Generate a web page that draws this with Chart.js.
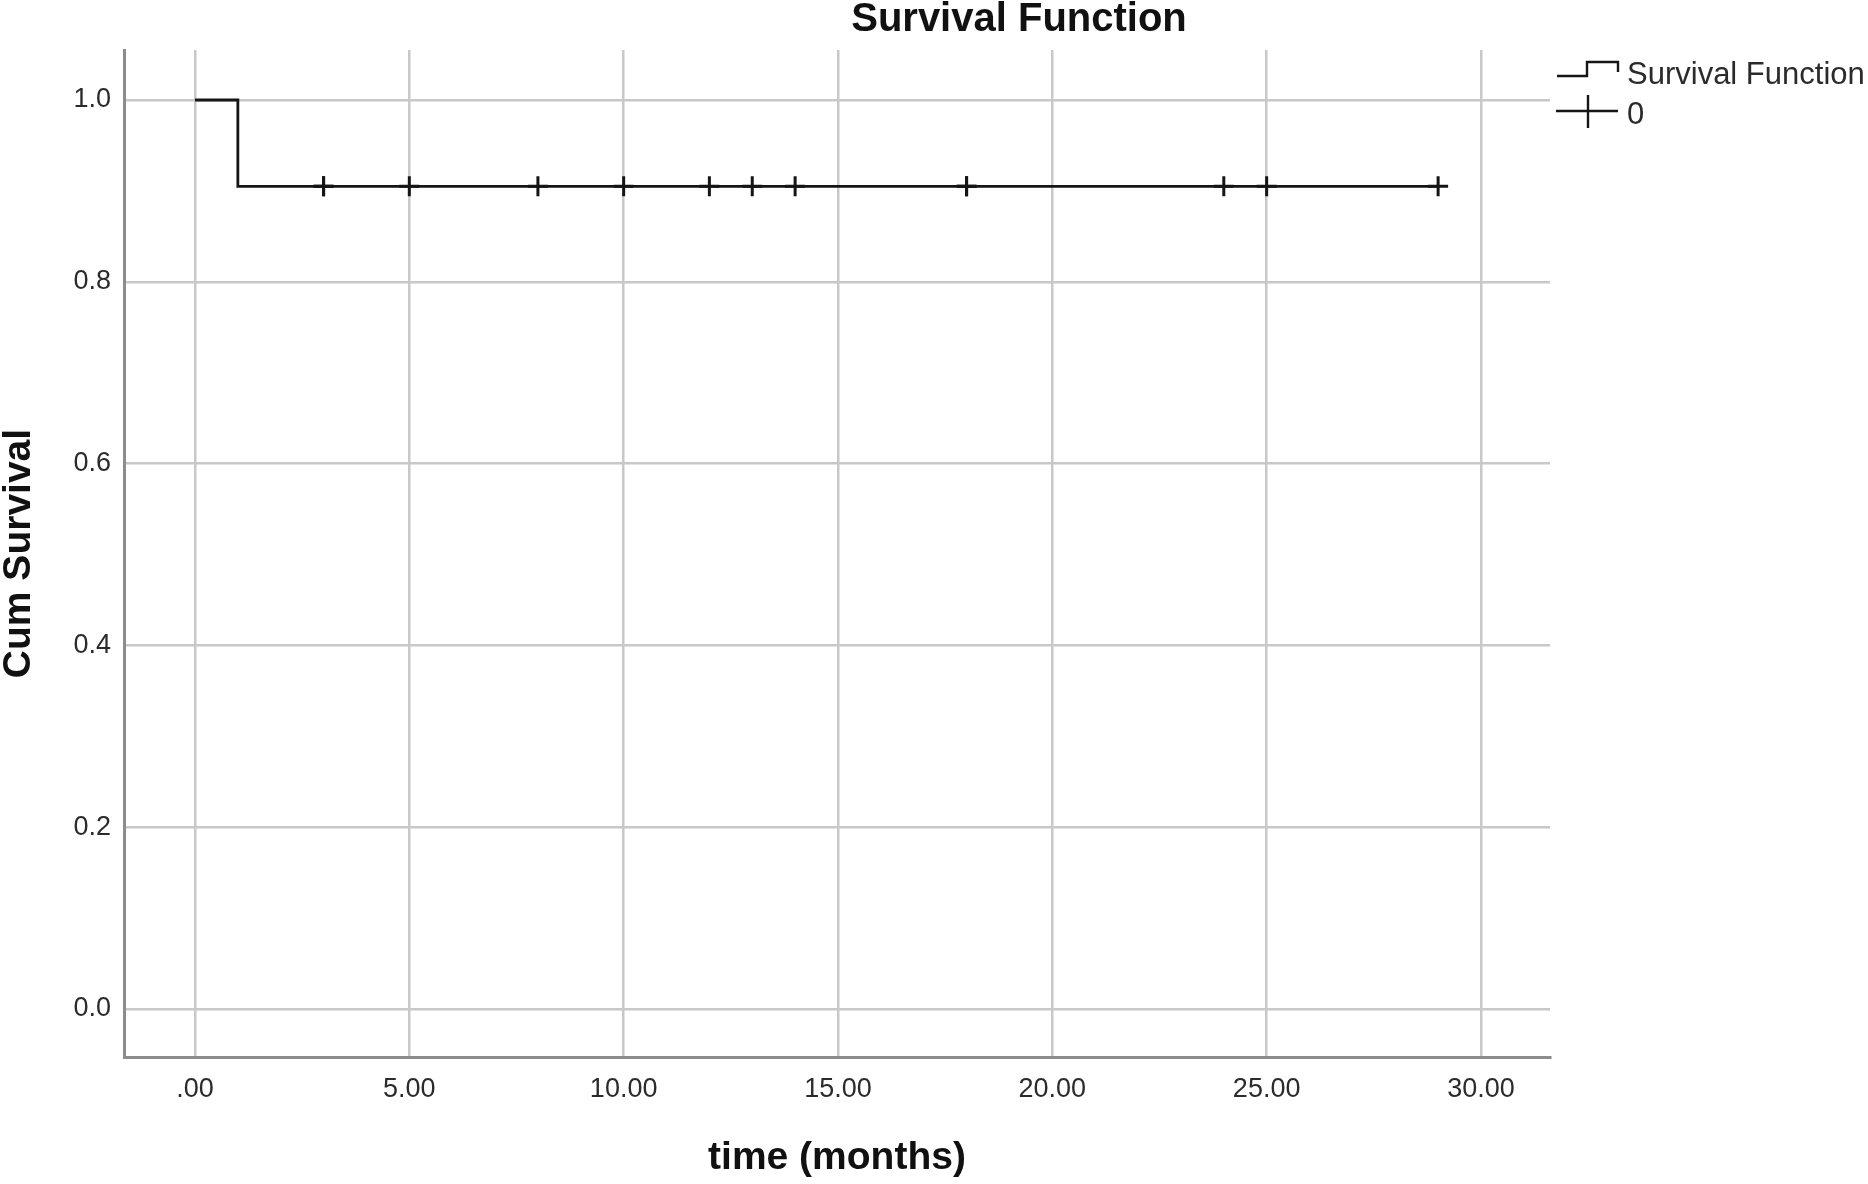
<!DOCTYPE html>
<html lang="en">
<head>
<meta charset="utf-8">
<title>Survival Function</title>
<script src="https://cdn.jsdelivr.net/npm/chart.js@4"></script>
<style>
  html, body { margin: 0; padding: 0; background: #fff; }
  #wrap { width: 1868px; height: 1184px; position: relative; }
</style>
</head>
<body>
<div id="wrap"><canvas id="kmChart"></canvas></div>
<script>
  // Kaplan-Meier curve: time (months) and cumulative survival after each step
  const kmTimes = [0, 1, 29];
  const kmSurvival = [1.0, 0.905, 0.905];

  // censored cases ("0"), times in months; 3 and 18 show doubled marks
  const censorTimes = [3, 3, 5, 8, 10, 12, 13, 14, 18, 18, 24, 25, 29];
  const censorSurvival = [0.905, 0.905, 0.905, 0.905, 0.905, 0.905, 0.905, 0.905, 0.905, 0.905, 0.905, 0.905, 0.905];

  const xTicks = [0, 5, 10, 15, 20, 25, 30];
  const xTickLabels = ['.00', '5.00', '10.00', '15.00', '20.00', '25.00', '30.00'];
  const yTicks = [0, 0.2, 0.4, 0.6, 0.8, 1.0];
  const yTickLabels = ['0.0', '0.2', '0.4', '0.6', '0.8', '1.0'];

  const FONT = '"Liberation Sans", Arial, sans-serif';
  const INK = '#151515';

  // SPSS style title + legend (step icon and censor plus)
  const spssDecor = {
    id: 'spssDecor',
    afterDraw(chart) {
      const ctx = chart.ctx;
      const r = chart.chartArea.right;
      ctx.save();
      ctx.fillStyle = '#111';
      ctx.font = 'bold 40px ' + FONT;
      ctx.textAlign = 'center';
      ctx.textBaseline = 'middle';
      ctx.fillText('Survival Function', 1019, 20);

      ctx.strokeStyle = INK;
      ctx.lineWidth = 2.4;
      ctx.beginPath();
      ctx.moveTo(r + 7, 76);
      ctx.lineTo(r + 37, 76);
      ctx.lineTo(r + 37, 62);
      ctx.lineTo(r + 68, 62);
      ctx.lineTo(r + 68, 72);
      ctx.stroke();

      ctx.beginPath();
      ctx.moveTo(r + 6, 111);
      ctx.lineTo(r + 68, 111);
      ctx.moveTo(r + 38, 95);
      ctx.lineTo(r + 38, 128);
      ctx.stroke();

      ctx.fillStyle = '#2b2b2b';
      ctx.font = '31px ' + FONT;
      ctx.textAlign = 'left';
      ctx.fillText(chart.data.datasets[0].label, r + 77, 75);
      ctx.fillText(chart.data.datasets[1].label, r + 77, 115);
      ctx.restore();
    }
  };

  const ctx = document.getElementById('kmChart');

  new Chart(ctx, {
    type: 'line',
    data: {
      datasets: [{
        label: 'Survival Function',
        data: kmTimes.map((t, i) => ({ x: t, y: kmSurvival[i] })),
        stepped: 'before',
        borderColor: INK,
        borderWidth: 2.8,
        pointRadius: 0,
        fill: false
      }, {
        label: '0',
        type: 'scatter',
        data: censorTimes.map((t, i) => ({ x: t, y: censorSurvival[i] })),
        pointStyle: 'cross',
        pointRadius: 10,
        pointBorderWidth: 3,
        borderColor: INK,
        backgroundColor: INK,
        showLine: false
      }]
    },
    options: {
      responsive: true,
      maintainAspectRatio: false,
      devicePixelRatio: 1,
      animation: false,
      layout: { padding: { top: 50, right: 318, left: 0, bottom: 0 } },
      plugins: {
        legend: { display: false },
        title: { display: false },
        tooltip: { enabled: false }
      },
      scales: {
        x: {
          type: 'linear',
          min: -1.656,
          max: 31.61,
          afterBuildTicks: axis => { axis.ticks = xTicks.map(v => ({ value: v })); },
          afterFit: axis => { axis.height = 127; axis.paddingLeft = 0; axis.paddingRight = 0; },
          ticks: {
            callback: (v, i) => xTickLabels[i],
            color: '#2b2b2b',
            font: { family: FONT, size: 27 },
            padding: 16,
            maxRotation: 0,
            autoSkip: false
          },
          grid: { color: '#c8c8c8', lineWidth: 2.5, drawTicks: false },
          border: { color: '#8c8c8c', width: 3 },
          title: {
            display: true,
            text: 'time (months)',
            color: '#111',
            font: { family: FONT, size: 39, weight: 'bold', lineHeight: 1.2 },
            padding: { top: 0, bottom: 2 }
          }
        },
        y: {
          type: 'linear',
          min: -0.0528,
          max: 1.055,
          afterBuildTicks: axis => { axis.ticks = yTicks.map(v => ({ value: v })); },
          afterFit: axis => { axis.width = 124; axis.paddingTop = 0; axis.paddingBottom = 0; },
          ticks: {
            callback: (v, i) => yTickLabels[i],
            color: '#2b2b2b',
            font: { family: FONT, size: 27 },
            padding: 13,
            autoSkip: false
          },
          grid: { color: '#c8c8c8', lineWidth: 2.5, drawTicks: false },
          border: { color: '#8c8c8c', width: 3 },
          title: {
            display: true,
            text: 'Cum Survival',
            color: '#111',
            font: { family: FONT, size: 39, weight: 'bold', lineHeight: 1.0 },
            padding: { top: 0, bottom: 0 }
          }
        }
      }
    },
    plugins: [spssDecor]
  });
</script>
</body>
</html>
